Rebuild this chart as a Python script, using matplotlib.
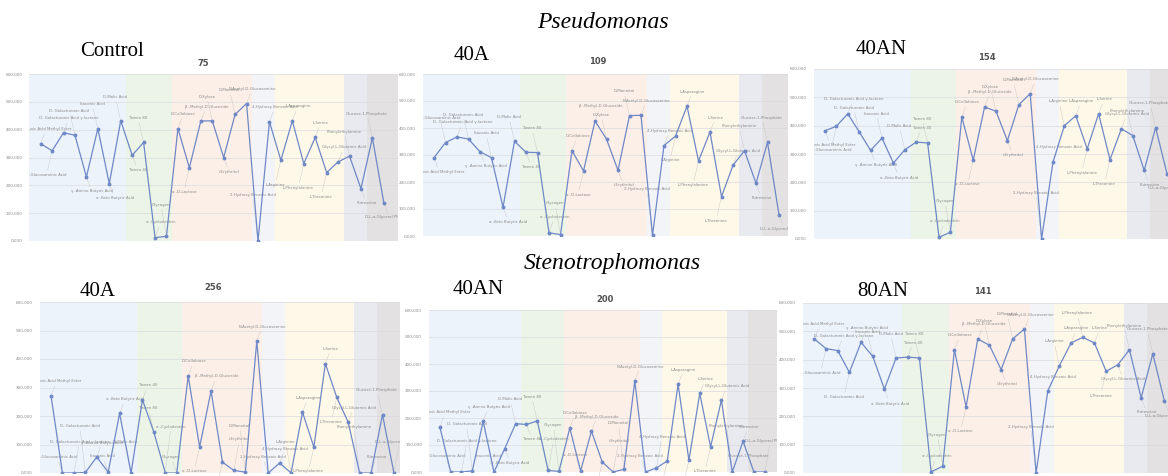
import matplotlib
matplotlib.use("Agg")
import matplotlib.pyplot as plt
import numpy as np

W, H = 1168, 476

substrates = [
    "Pyruvic Acid Methyl Ester", "D-Glucosaminic Acid", "D- Galacturonic Acid γ-lactone",
    "D- Galacturonic Acid", "γ -Amino Butyric Acid", "Itaconic Acid", "α -Keto Butyric Acid",
    "D-Malic Acid", "Tween 40", "Tween 80", "α -Cyclodextrin", "Glycogen", "D-Cellobiose",
    "α -D-Lactose", "β -Methyl-D-Glucoside", "D-Xylose", "i-Erythritol", "D-Mannitol",
    "N-Acetyl-D-Glucosamine", "2-Hydroxy Benzoic Acid", "4-Hydroxy Benzoic Acid", "L-Arginine",
    "L-Asparagine", "L-Phenylalanine", "L-Serine", "L-Threonine", "Glycyl-L-Glutamic Acid",
    "Phenylethylamine", "Putrescine", "Glucose-1-Phosphate", "D,L-α-Glycerol Phosphate",
]
group_sizes = [8, 4, 7, 2, 6, 2, 2]
group_colors = ["#edf3fa", "#ebf4e6", "#fcefe7", "#f3f4f7", "#fef8e9", "#e8eaf0", "#e3e1e1"]

# values in thousands
control = [350, 324, 389, 380, 230, 404, 206, 432, 308, 354, 12, 17, 404, 263, 431, 432,
           300, 455, 494, 0, 428, 290, 432, 278, 372, 246, 284, 305, 188, 371, 137]
pseudo_40a = [290, 346, 367, 359, 312, 290, 106, 351, 310, 309, 12, 5, 316, 241, 426, 359,
              243, 446, 447, 2, 335, 370, 481, 278, 385, 146, 262, 316, 195, 347, 78]
pseudo_40an = [382, 398, 442, 378, 313, 356, 268, 315, 342, 339, 6, 24, 431, 278, 466, 451,
               347, 474, 513, 0, 272, 400, 435, 318, 442, 280, 389, 365, 242, 393, 231]
steno_40a = [271, 0, 0, 2, 56, 3, 209, 0, 257, 143, 0, 0, 341, 91, 288, 38,
             9, 3, 463, 0, 35, 0, 213, 91, 384, 265, 178, 0, 0, 205, 0]
steno_40an = [167, 0, 0, 4, 188, 0, 87, 179, 176, 189, 6, 2, 163, 4, 151, 37,
              0, 10, 337, 0, 15, 41, 325, 43, 291, 93, 266, 0, 114, 0, 0]
steno_80an = [473, 439, 432, 355, 461, 412, 296, 406, 409, 406, 4, 24, 435, 233, 473, 451,
              365, 474, 508, 0, 289, 379, 459, 479, 459, 359, 382, 435, 265, 421, 253]

panel_labels = ["Control", "40A", "40AN", "40A", "40AN", "80AN"]
panel_numbers = ["75", "109", "154", "256", "200", "141"]
panel_data = [control, pseudo_40a, pseudo_40an, steno_40a, steno_40an, steno_80an]
section_titles = ["Pseudomonas", "Stenotrophomonas"]
ytick_values = [0, 100, 200, 300, 400, 500, 600]
ytick_labels = ["0,000", "100,000", "200,000", "300,000", "400,000", "500,000", "600,000"]

# layout (pixels): x of category position 0, spacing per category, right-limit, top, bottom
layout = [
    (29.2, 11.44, 32.2, 74, 241),
    (422.5, 11.50, 31.8, 74, 236),
    (813.6, 11.40, 32.0, 69, 239),
    (39.6, 11.43, 31.5, 302, 473),
    (429.0, 10.83, 32.1, 310, 472),
    (802.7, 11.67, 32.0, 303, 473),
]
label_pos = [(112, 52), (472, 55), (881, 50), (98, 292), (478, 290), (883, 292)]
number_pos = [(203, 63), (598, 62), (987, 57), (213, 288), (605, 300), (983, 292)]
section_pos = [(603, 22), (612, 263)]

fig = plt.figure(figsize=(W / 100, H / 100), dpi=100)

line_color = "#6f88c6"
text_gray = "#8a8a8a"

for k in range(6):
    x0, dx, xr, top, bot = layout[k]
    width_px = xr * dx
    ax = fig.add_axes([x0 / W, 1 - bot / H, width_px / W, (bot - top) / H])
    ax.set_xlim(0, xr)
    ax.set_ylim(0, 600)
    vals = panel_data[k]
    xs = np.arange(1, len(vals) + 1)

    # background bands
    edges = np.concatenate([[0], np.cumsum(group_sizes) + 0.5])
    edges[0] = 0
    edges[-1] = xr
    for i, c in enumerate(group_colors):
        ax.axvspan(edges[i], edges[i + 1], color=c, lw=0, zorder=0)

    for v in ytick_values:
        ax.axhline(v, color="#d9dbe0", lw=0.5, zorder=1)

    ax.plot(xs, vals, color=line_color, lw=0.9, marker="o", ms=1.8,
            mfc=line_color, mec=line_color, zorder=3)

    # data labels
    low_count = 0
    for i, (xv, v) in enumerate(zip(xs, vals)):
        prev_v = vals[i - 1] if i > 0 else v
        next_v = vals[i + 1] if i < len(vals) - 1 else v
        above = v >= (prev_v + next_v) / 2
        dist = 9 if i % 2 == 0 else 16
        if v < 30:
            above = True
            dist = [10, 21, 32][low_count % 3]
            low_count += 1
        if v > 520:
            above = False
        dy = dist if above else -dist
        dxo = 4 if i % 2 == 0 else -4
        ax.annotate(substrates[i], xy=(xv, v), xytext=(dxo, dy), textcoords="offset points",
                    fontsize=2.8, color=text_gray, ha="center",
                    va="bottom" if above else "top",
                    arrowprops=dict(arrowstyle="-", color="#c4c4c4", lw=0.3,
                                    shrinkA=0, shrinkB=1),
                    clip_on=True, zorder=2)

    ax.set_yticks(ytick_values)
    ax.set_yticklabels(ytick_labels, fontsize=3.0, color=text_gray)
    ax.set_xticks([])
    ax.tick_params(axis="y", length=0, pad=5)
    for s in ax.spines.values():
        s.set_visible(False)

    lx, ly = label_pos[k]
    fig.text(lx / W, 1 - ly / H, panel_labels[k], family="Liberation Serif",
             fontsize=15, ha="center", va="center", color="black")
    nx, ny = number_pos[k]
    fig.text(nx / W, 1 - ny / H, panel_numbers[k], fontsize=6, fontweight="bold",
             ha="center", va="center", color="#505050")

for t, (sx, sy) in zip(section_titles, section_pos):
    fig.text(sx / W, 1 - sy / H, t, family="Liberation Serif", style="italic",
             fontsize=17, ha="center", va="center", color="black")

fig.savefig("out.png", dpi=100, facecolor="white")
